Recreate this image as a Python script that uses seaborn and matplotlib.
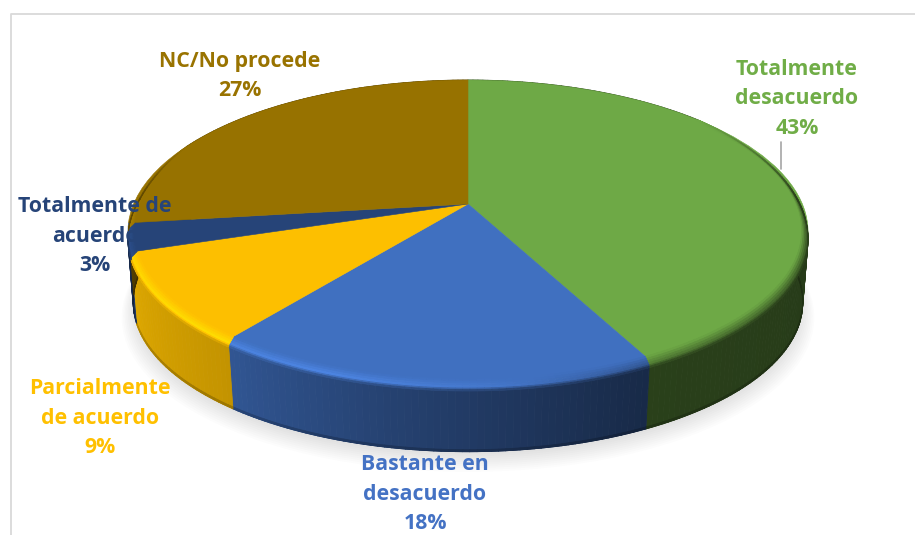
import numpy as np
import matplotlib
matplotlib.use("Agg")
import matplotlib.pyplot as plt
import seaborn as sns
from matplotlib.collections import PolyCollection
from matplotlib.patches import Circle
from matplotlib.transforms import Transform

# ---- data ----
categories = ["Totalmente\ndesacuerdo", "Bastante en\ndesacuerdo", "Parcialmente\nde acuerdo",
              "Totalmente de\nacuerdo", "NC/No procede"]
values = [42.5, 18.0, 9.5, 3.0, 27.0]
slice_colors = ["#6EA946", "#4070C0", "#FDBF00", "#264478", "#977200"]
text_colors = ["#70AD47", "#4472C4", "#FFC000", "#264478", "#997300"]
percent_labels = ["43%", "18%", "9%", "3%", "27%"]

# ---- layout / style ----
label_pos = [(797, 99), (425, 494), (100, 418), (95, 236), (240, 76)]
CX, CY, A, B, K = 468, 204, 334.4, 146.5, 0.1815
DEPTH, BEVEL = 72, 8
FIG_W, FIG_H = 915, 535

sns.set_theme(style="white")
plt.rcParams["font.family"] = ["Open Sans", "DejaVu Sans"]
palette = sns.color_palette(slice_colors)
text_palette = sns.color_palette(text_colors)


class Tilt(Transform):
    """Perspective view of the unit pie disk, in pixel-like axes units."""
    input_dims = output_dims = 2

    def __init__(self, scale=1.0, dz=0.0):
        super().__init__()
        self.scale, self.dz = scale, dz

    def transform_non_affine(self, values):
        v = np.asarray(values, float) * self.scale
        w = 1 + K * v[:, 1]
        return np.column_stack([CX + A * v[:, 0] / w, CY - B * v[:, 1] / w + self.dz])


fig = plt.figure(figsize=(FIG_W / 100, FIG_H / 100), dpi=100, facecolor="white")
ax = fig.add_axes([0, 0, 1, 1])

wedges, _ = ax.pie(values, colors=palette, startangle=90, counterclock=False, radius=1,
                   wedgeprops={"linewidth": 0.4})
ax.set_aspect("auto")
ax.set_xlim(0, FIG_W)
ax.set_ylim(FIG_H, 0)
ax.axis("off")

# frame of the chart area
ax.plot([10.5, 10.5, FIG_W], [FIG_H, 13.5, 13.5], color="#D9D9D9", lw=1.3, zorder=1, clip_on=False)

# soft shadow beneath the pie
for s, z in zip(np.linspace(1.018, 0.97, 12), np.linspace(DEPTH + 13, DEPTH + 2, 12)):
    ax.add_patch(Circle((0, 0), 1, facecolor="#000000", alpha=0.013, lw=0, zorder=2,
                        transform=Tilt(s, z) + ax.transData))

# side wall and bevel are shaded by clockwise angle from the top
wall_a = [0, 90, 155, 190, 220, 252, 262, 275, 360]
wall_s = [0.33, 0.34, 0.38, 0.58, 0.78, 0.88, 0.55, 0.5, 0.5]
high_a = [60, 90, 150, 175, 200, 225, 265, 285]
high_s = [0.8, 0.5, 0.72, 1.05, 1.18, 1.15, 1.12, 1.0]

edges = np.cumsum([0] + values) / sum(values) * 360


def zfac(a):
    return np.clip((np.asarray(a) - 50) / 45, 0, 1) * np.clip((295 - np.asarray(a)) / 20, 0, 1)


def profile(r0, z0, r1, z1, shade_fn, angles, color, zorder, ramp0=False, ramp1=False):
    polys, cols = [], []
    for a0, a1 in zip(angles[:-1], angles[1:]):
        mid = 0.5 * (a0 + a1)
        t = np.radians([a0, a1])
        uv = np.column_stack([np.sin(t), np.cos(t)])
        f = zfac([a0, a1])
        p0 = Tilt(r0, z0 * f if ramp0 else z0).transform_non_affine(uv)
        p1 = Tilt(r1, z1 * f if ramp1 else z1).transform_non_affine(uv)
        polys.append([p0[0], p0[1], p1[1], p1[0]])
        cols.append(np.clip(np.array(color) * shade_fn(mid), 0, 1))
    ax.add_collection(PolyCollection(polys, facecolors=cols, edgecolors=cols, linewidths=0.6, zorder=zorder))


def ring(step=1.0):
    for c, a0, a1 in zip(palette, edges[:-1], edges[1:]):
        yield c, np.linspace(a0, a1, max(3, int((a1 - a0) / step)))


# side wall with a narrow darker lower edge
RB = 0.985
for c, ang in ring():
    profile(1, BEVEL, RB, DEPTH, lambda m: np.interp(m, wall_a, wall_s), ang, c, 3, ramp0=True)
    profile(RB, DEPTH - 2, RB, DEPTH, lambda m: np.interp(m, wall_a, wall_s) * 0.8, ang, c, 3.1)

# top surface, taken from the pie itself
for w in wedges:
    w.set_transform(Tilt() + ax.transData)
    w.set_edgecolor(w.get_facecolor())
    w.set_zorder(4)
    w.set_clip_on(False)


def fade(m):
    return np.clip((m - 50) / 35, 0, 1) * np.clip((295 - m) / 20, 0, 1)


# bevel between top and wall
steps = np.linspace(0, 1, 7)
for c, ang in ring():
    ang = ang[(ang >= 50) & (ang <= 295)]
    if len(ang) < 2:
        continue
    for l0, l1 in zip(steps[:-1], steps[1:]):
        lm = 0.5 * (l0 + l1)

        def shade(m, lm=lm):
            h = np.interp(m, high_a, high_s)
            wl = np.interp(m, wall_a, wall_s)
            s = 1 + (h - 1) * lm / 0.6 if lm < 0.6 else h + (wl - h) * (lm - 0.6) / 0.4
            return 1 + (s - 1) * fade(m)

        r = lambda l: 0.982 + 0.018 * min(l / 0.7, 1)
        profile(r(l0), BEVEL * l0, r(l1), BEVEL * l1, shade, ang, c, 5, ramp0=True, ramp1=True)

# leader line of the first label
ax.plot([781, 781], [142, 169], color="#A6A6A6", lw=1.2, zorder=6)

for name, pct, col, (x, y) in zip(categories, percent_labels, text_palette, label_pos):
    ax.text(x, y, f"{name}\n{pct}", ha="center", va="center", color=col, fontsize=15.3,
            fontweight="bold", linespacing=1.53, zorder=7)

fig.savefig("out.png", dpi=100, facecolor="white")
